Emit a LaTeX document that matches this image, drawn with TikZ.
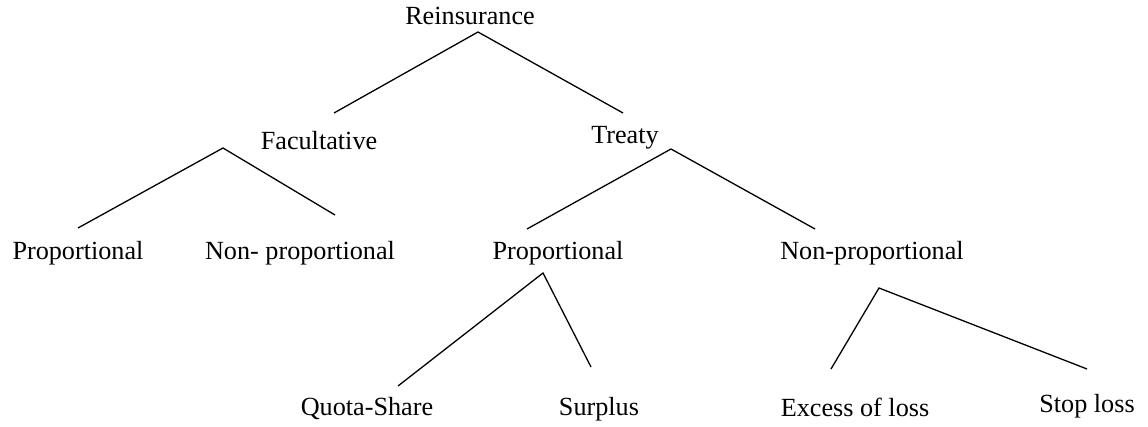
\documentclass[tikz,border=0pt]{standalone}
\usepackage{fontspec}
\setmainfont{Liberation Serif}
\usepackage{tikz}

\tikzset{
	lbl/.style={anchor=base, inner sep=0pt, font=\fontsize{26.2}{30}\selectfont},
	br/.style={draw=black, line width=1.3pt}
}

\begin{document}
\begin{tikzpicture}[x=1pt, y=-1pt]
			\useasboundingbox (0,0) rectangle (1148,427);
			
			% labels
			\node (R) [lbl] at (470,25){Reinsurance};
			\node (F) [lbl] at (319,150){Facultative};
			\node (T) [lbl] at (625,144){Treaty};
			\node (FP) [lbl] at (78,260){Proportional};
			\node (FN) [lbl] at (300,260){Non- proportional};
			\node (TP) [lbl] at (558,260){Proportional};
			\node (TN) [lbl] at (872,260){Non-proportional};
			\node (QS) [lbl] at (367,415){Quota-Share};
			\node (SP) [lbl] at (599,415){Surplus};
			\node (XL) [lbl] at (855,416){Excess of loss};
			\node (SL) [lbl] at (1087,412){Stop loss};
			
			% branch points
			\coordinate (R0) at (478,32);
			\coordinate (R1) at (334,113);
			\coordinate (R2) at (623,113);
			\coordinate (F0) at (223,148);
			\coordinate (F1) at (78,228);
			\coordinate (F2) at (335,215);
			\coordinate (T0) at (671,149);
			\coordinate (T1) at (527,229);
			\coordinate (T2) at (815,229);
			\coordinate (P0) at (543,273);
			\coordinate (P1) at (398,386);
			\coordinate (P2) at (591,367);
			\coordinate (N0) at (879,288);
			\coordinate (N1) at (831,369);
			\coordinate (N2) at (1087,369);
			
			\draw[br] (R1)--(R0)--(R2);
			\draw[br] (F1)--(F0)--(F2);
			\draw[br] (T1)--(T0)--(T2);
			\draw[br] (P1)--(P0)--(P2);
			\draw[br] (N1)--(N0)--(N2);
		\end{tikzpicture}
\end{document}
